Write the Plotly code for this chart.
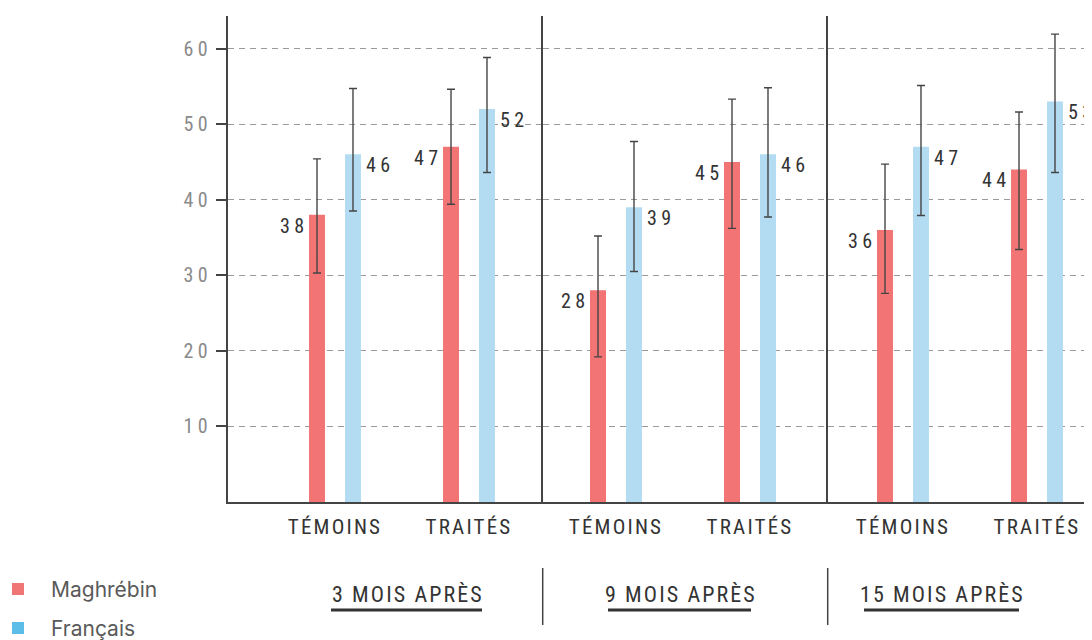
import plotly.graph_objects as go

# ---------------- data ----------------
periods = ["3 MOIS APRÈS", "9 MOIS APRÈS", "15 MOIS APRÈS"]
groups = ["TÉMOINS", "TRAITÉS"]
series_names = ["Maghrébin", "Français"]

maghrebin = [[38, 47], [28, 45], [36, 44]]
francais = [[46, 52], [39, 46], [47, 53]]

maghrebin_hi = [[45.4, 54.6], [35.2, 53.3], [44.7, 51.6]]
maghrebin_lo = [[30.3, 39.4], [19.2, 36.2], [27.6, 33.4]]
francais_hi = [[54.7, 58.8], [47.7, 54.8], [55.1, 61.9]]
francais_lo = [[38.5, 43.6], [30.5, 37.7], [37.9, 43.6]]

y_ticks = [10, 20, 30, 40, 50, 60]

# ---------------- style ----------------
W, H = 1092, 640
OFF = 8  # page body margin
ML, MR, MT, MB = 220, 0, 8, 146
PW, PH = W - ML - MR, H - MT - MB

RED = "#f27474"
BLUE = "#b3dcf2"
RED_LEG = "#f07575"
BLUE_LEG = "#5cbde8"
DARK = "#333333"
AXIS = "#444444"
GRID = "#9a9a9a"
COND = "Roboto Condensed, Roboto, sans-serif"


def px_x(p):
    return (p - OFF - ML) / PW


def px_y(p):
    return (H - MB - (p - OFF)) / PH


def spaced(t, ls):
    return f'<span style="letter-spacing:{ls}px">{t}</span>'


# panel edges (screen pixels)
edges = [228, 542.7, 827.7, 1100]
domains = [[px_x(edges[i]), px_x(edges[i + 1])] for i in range(3)]
unit = 134.0
cat_centers = [335, 616, 903]
ranges = []
for i in range(3):
    left = -(cat_centers[i] - edges[i]) / unit
    right = left + (edges[i + 1] - edges[i]) / unit
    ranges.append([left, right])

fig = go.Figure()

for i in range(3):
    xa = "x" if i == 0 else f"x{i + 1}"
    ya = "y" if i == 0 else f"y{i + 1}"
    for name, vals, hi, lo, col in [
        (series_names[0], maghrebin, maghrebin_hi, maghrebin_lo, RED),
        (series_names[1], francais, francais_hi, francais_lo, BLUE),
    ]:
        fig.add_trace(go.Bar(
            x=groups, y=vals[i], name=name, marker_color=col,
            marker_line_width=0, showlegend=False,
            error_y=dict(type="data", symmetric=False,
                         array=[h - v for h, v in zip(hi[i], vals[i])],
                         arrayminus=[v - l for l, v in zip(lo[i], vals[i])],
                         color=AXIS, thickness=1.4, width=4),
            xaxis=xa, yaxis=ya, hoverinfo="skip",
        ))
    # value labels
    for j, g in enumerate(groups):
        fig.add_annotation(x=g, y=maghrebin[i][j], xref=xa, yref=ya,
                           text=spaced(str(maghrebin[i][j]), 4.5), showarrow=False,
                           xanchor="right", yanchor="middle", xshift=-24, yshift=-11,
                           font=dict(family=COND, size=20, color=DARK))
        fig.add_annotation(x=g, y=francais[i][j], xref=xa, yref=ya,
                           text=spaced(str(francais[i][j]), 4.5), showarrow=False,
                           xanchor="left", yanchor="middle", xshift=29, yshift=-11,
                           font=dict(family=COND, size=20, color=DARK))

layout = dict(
    width=W, height=H, margin=dict(l=ML, r=MR, t=MT, b=MB),
    paper_bgcolor="white", plot_bgcolor="white",
    barmode="group", bargap=0.463, bargroupgap=0.556,
    showlegend=False,
)
for i in range(3):
    k = "" if i == 0 else str(i + 1)
    layout[f"xaxis{k}"] = dict(
        domain=domains[i], range=ranges[i], type="category",
        anchor=f"y{k}", showline=True, linecolor=AXIS, linewidth=1.5,
        showgrid=False, ticks="", tickvals=groups,
        ticktext=[spaced(g, 2.2) for g in groups],
        tickfont=dict(family=COND, size=21, color=DARK),
        ticklabelstandoff=5, fixedrange=True,
    )
    ydict = dict(
        domain=[0, 1], range=[0, 64.3], anchor=f"x{k}",
        showline=True, linecolor=AXIS, linewidth=1.5,
        showgrid=True, gridcolor=GRID, gridwidth=1, griddash="6px,5px",
        zeroline=False, tickvals=y_ticks, fixedrange=True,
    )
    if i == 0:
        ydict.update(ticks="outside", ticklen=10, tickwidth=1.5, tickcolor=AXIS,
                     ticktext=[spaced(str(t), 4.5) for t in y_ticks],
                     tickfont=dict(family=COND, size=20, color="#8a8a8a"),
                     ticklabelstandoff=0)
    else:
        ydict.update(matches="y", showticklabels=False, ticks="")
    layout[f"yaxis{k}"] = ydict

fig.update_layout(**layout)

# period labels, underlines, separators
label_px = [(331, 482), (608, 751), (864, 1019)]
for i, p in enumerate(periods):
    a, b = label_px[i]
    fig.add_annotation(x=px_x((a + b) / 2 + 1), y=px_y(594), xref="paper", yref="paper",
                       text=spaced(p, 2.1), showarrow=False, xanchor="center",
                       yanchor="middle", font=dict(family=COND, size=22, color=DARK))
    fig.add_shape(type="line", xref="paper", yref="paper",
                  x0=px_x(a), x1=px_x(b), y0=px_y(610), y1=px_y(610),
                  line=dict(color=DARK, width=3))
for e in edges[1:3]:
    fig.add_shape(type="line", xref="paper", yref="paper",
                  x0=px_x(e), x1=px_x(e), y0=px_y(568), y1=px_y(625),
                  line=dict(color=AXIS, width=1.5))

# legend
for name, col, yc in [(series_names[0], RED_LEG, 589), (series_names[1], BLUE_LEG, 628)]:
    fig.add_shape(type="rect", xref="paper", yref="paper",
                  x0=px_x(12), x1=px_x(24), y0=px_y(yc - 6), y1=px_y(yc + 6),
                  fillcolor=col, line_width=0)
    fig.add_annotation(x=px_x(49), y=px_y(yc), xref="paper", yref="paper",
                       text=name, showarrow=False, xanchor="left", yanchor="middle",
                       font=dict(family="Inter, Roboto, sans-serif", size=21, color="#5a5a5a"))

fig.write_html("out.html")
